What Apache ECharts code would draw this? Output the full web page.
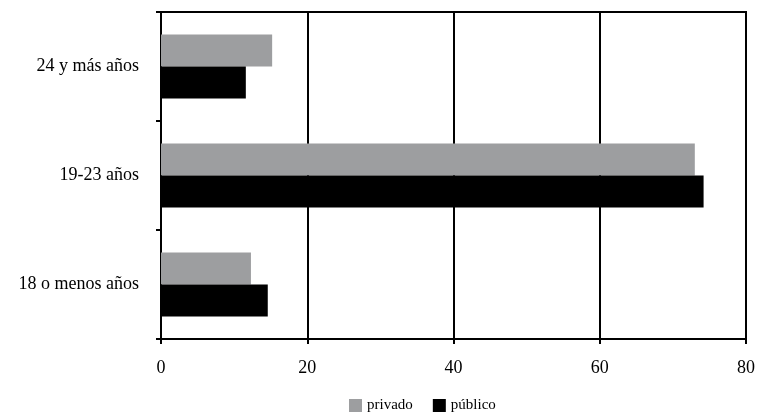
<!DOCTYPE html>
<html><head><meta charset="utf-8">
<script src="https://cdn.jsdelivr.net/npm/echarts@6/dist/echarts.min.js"></script>
<style>html,body{margin:0;padding:0;background:#fff}#c{width:758px;height:414px}</style>
</head><body><div id="c"></div>
<script>
var categories = ['18 o menos años', '19-23 años', '24 y más años'];
var privado = [12.3, 73.0, 15.2];
var publico = [14.6, 74.2, 11.6];
var xTicks = [0, 20, 40, 60, 80];

var font = 'Liberation Serif';
var chart = echarts.init(document.getElementById('c'));
chart.setOption({
  animation: false,
  backgroundColor: '#fff',
  grid: { left: 161, right: 12, top: 12, bottom: 75, show: true, borderColor: '#000', borderWidth: 2 },
  legend: {
    top: 393, left: 344, itemWidth: 13, itemHeight: 13, itemGap: 20,
    textStyle: { fontFamily: font, fontSize: 15, color: '#000' },
    data: [{ name: 'privado', icon: 'rect' }, { name: 'público', icon: 'rect' }]
  },
  xAxis: {
    type: 'value', min: xTicks[0], max: xTicks[xTicks.length - 1], interval: 20,
    axisLine: { show: true, lineStyle: { color: '#000', width: 2 } },
    axisTick: { show: true, length: 5, lineStyle: { color: '#000', width: 2 } },
    splitLine: { show: true, lineStyle: { color: '#000', width: 2 } },
    axisLabel: { fontFamily: font, fontSize: 18, color: '#000', margin: 20 }
  },
  yAxis: {
    type: 'category', data: categories,
    axisLine: { show: true, lineStyle: { color: '#000', width: 2 } },
    axisTick: { show: true, length: 5, lineStyle: { color: '#000', width: 2 } },
    axisLabel: { fontFamily: font, fontSize: 18, color: '#000', margin: 22 }
  },
  series: [
    { name: 'privado', type: 'bar', data: privado, itemStyle: { color: '#9d9ea0' }, barWidth: 32, barGap: '0%' },
    { name: 'público', type: 'bar', data: publico, itemStyle: { color: '#000' }, barWidth: 32, barGap: '0%' }
  ]
});
</script></body></html>
